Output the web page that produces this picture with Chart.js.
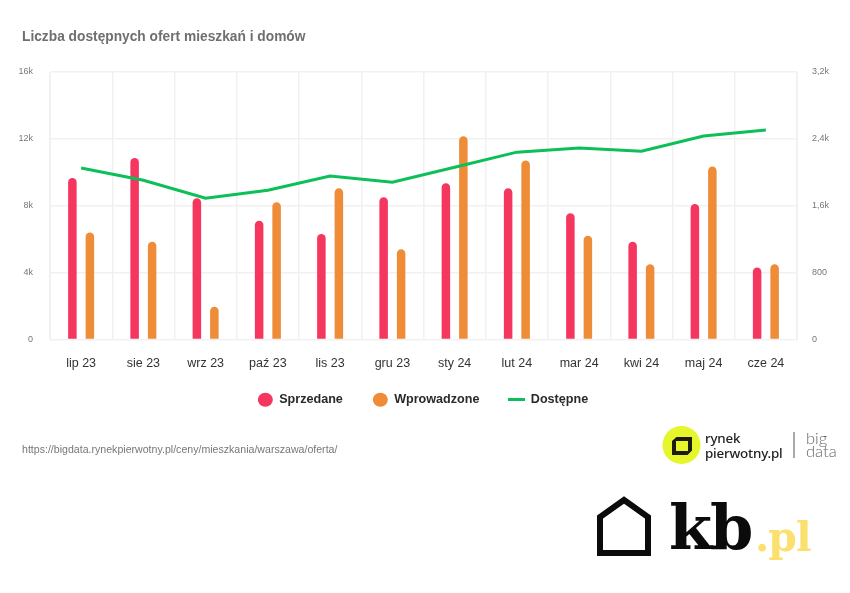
<!DOCTYPE html>
<html lang="pl"><head><meta charset="utf-8">
<script src="https://cdn.jsdelivr.net/npm/chart.js@4"></script>
<style>
html,body{margin:0;padding:0;background:#fff;width:850px;height:593px;overflow:hidden;font-family:"Liberation Sans",Arial,sans-serif}
#c{position:absolute;left:0;top:0}
.t{position:absolute;white-space:nowrap}
svg{position:absolute;left:0;top:0}
</style></head><body>
<canvas id="c" width="850" height="593"></canvas>
<div class="t" style="left:22px;top:29px;font-size:13.75px;line-height:16px;font-weight:bold;color:#6f6f6f">Liczba dostępnych ofert mieszkań i domów</div>
<div class="t" style="left:22px;top:442px;font-size:10.6px;line-height:14px;color:#777">https://bigdata.rynekpierwotny.pl/ceny/mieszkania/warszawa/oferta/</div>
<svg width="850" height="593" viewBox="0 0 850 593">
  <circle cx="681.5" cy="445" r="19" fill="#e5f62b"/>
  <path d="M672 441 L676.5 437 L692 437 L692 450.5 L687.5 455 L672 455 Z M676 441 L676 451 L688 451 L688 441 Z" fill="#1c1c10" fill-rule="evenodd"/>
  <rect x="793.5" y="432" width="1" height="26" fill="#555"/>
  <path d="M600 553 L600 517 L624 500 L648 517 L648 553 Z" fill="none" stroke="#0b0b0b" stroke-width="6" stroke-linejoin="miter"/>
</svg>
<div class="t" style="left:705px;top:431px;font-size:13.4px;line-height:14.5px;font-weight:500;color:#222;font-family:'Noto Sans',sans-serif;letter-spacing:-.2px">rynek<br>pierwotny.pl</div>
<div class="t" style="left:806px;top:432px;font-size:16.5px;line-height:12.5px;font-weight:300;color:#666;font-family:Lato,sans-serif">big<br>data</div>
<div class="t" style="left:669px;top:488px;font-size:62px;line-height:80px;font-weight:bold;color:#0b0b0b;font-family:'DejaVu Serif',serif;letter-spacing:-2px">kb</div>
<div class="t" style="left:755px;top:507px;font-size:41px;line-height:60px;font-weight:bold;color:#fbe06f;font-family:'DejaVu Serif',serif;letter-spacing:-1px">.pl</div>
<script>
const categories = ["lip 23","sie 23","wrz 23","paź 23","lis 23","gru 23","sty 24","lut 24","mar 24","kwi 24","maj 24","cze 24"];
const sprzedane = [9650,10850,8450,7100,6300,8500,9350,9050,7550,5850,8100,4300];
const wprowadzone = [6400,5850,1950,8200,9050,5400,12150,10700,6200,4500,10350,4500];
const dostepne = [2050,1905,1690,1786,1954,1882,2060,2241,2290,2253,2433,2505];
const leftTicks = {0:"0",4000:"4k",8000:"8k",12000:"12k",16000:"16k"};
const rightTicks = {0:"0",800:"800",1600:"1,6k",2400:"2,4k",3200:"3,2k"};
const gridColor = "#f1f1f1";
const tickFont = {family:"'Liberation Sans',Arial,sans-serif",size:9};
const lineSwatch = document.createElement("canvas");
lineSwatch.width = 17; lineSwatch.height = 3;
const swatchCtx = lineSwatch.getContext("2d");
swatchCtx.fillStyle = "#0cbf58"; swatchCtx.fillRect(0,0,17,3);
const moveLegend = {id:"moveLegend",afterLayout(chart){chart.legend.top -= 11;}};
new Chart(document.getElementById("c"),{
  plugins:[moveLegend],
  data:{labels:categories,datasets:[
    {type:"line",label:"Dostępne",data:dostepne,yAxisID:"y2",borderColor:"#0cbf58",backgroundColor:"#0cbf58",borderWidth:3,pointRadius:0,tension:0,pointStyle:lineSwatch,order:0},
    {type:"bar",label:"Sprzedane",data:sprzedane,yAxisID:"y",backgroundColor:"#f5365f",categoryPercentage:.562,barPercentage:.486,borderRadius:{topLeft:5,topRight:5},borderSkipped:"bottom",pointStyle:"circle",order:1},
    {type:"bar",label:"Wprowadzone",data:wprowadzone,yAxisID:"y",backgroundColor:"#ee8c37",categoryPercentage:.562,barPercentage:.486,borderRadius:{topLeft:5,topRight:5},borderSkipped:"bottom",pointStyle:"circle",order:1}
  ]},
  options:{
    responsive:false,animation:false,
    layout:{padding:{left:0,right:4,top:72,bottom:166}},
    plugins:{
      title:{display:false},
      legend:{position:"bottom",labels:{usePointStyle:true,boxHeight:10,pointStyleWidth:15,padding:30,color:"#2a2a2a",font:{family:"'Liberation Sans',Arial,sans-serif",size:12.6,weight:"bold"},
        sort:(a,b)=>(a.text==="Dostępne")-(b.text==="Dostępne")}},
      tooltip:{enabled:false}
    },
    scales:{
      x:{grid:{color:gridColor,lineWidth:1.5,drawTicks:false},border:{color:gridColor},ticks:{color:"#333",padding:17,maxRotation:0,font:{family:"'Liberation Sans',Arial,sans-serif",size:12.5}},afterFit:s=>{s.height=35}},
      y:{position:"left",min:0,max:16000,grid:{color:gridColor,lineWidth:1.5,drawTicks:false},border:{color:gridColor},
        afterBuildTicks:s=>{s.ticks=Object.keys(leftTicks).map(v=>({value:+v}))},
        ticks:{color:"#777",padding:17,font:tickFont,callback:v=>leftTicks[v]},afterFit:s=>{s.width=50}},
      y2:{position:"right",min:0,max:3200,grid:{drawOnChartArea:false,drawTicks:false},border:{color:gridColor},
        afterBuildTicks:s=>{s.ticks=Object.keys(rightTicks).map(v=>({value:+v}))},
        ticks:{color:"#777",padding:15,font:tickFont,callback:v=>rightTicks[v]},afterFit:s=>{s.width=49}}
    }
  }
});
</script>
</body></html>
